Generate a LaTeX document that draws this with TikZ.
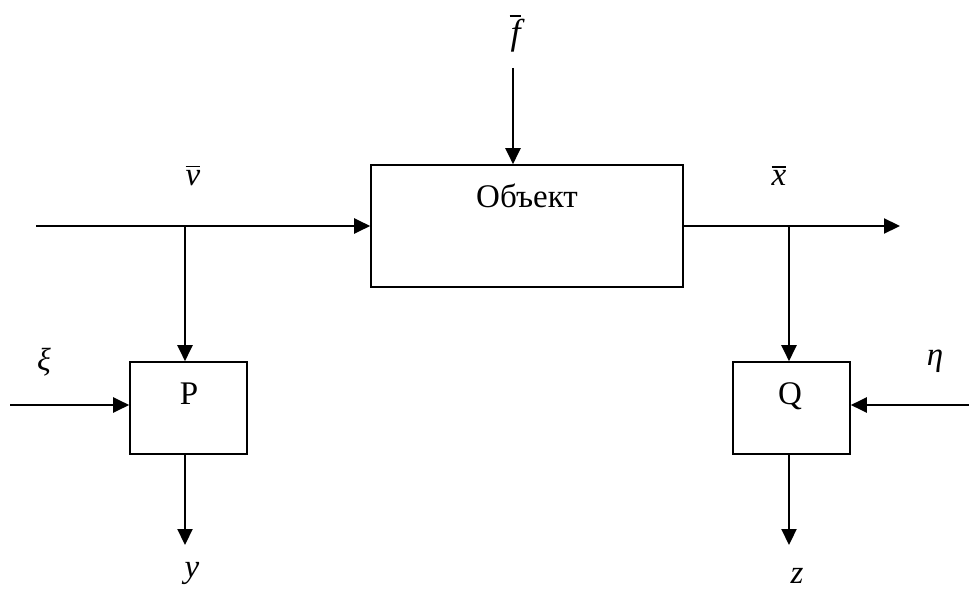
\documentclass[tikz,border=0pt]{standalone}
\usepackage{fontspec}
\setmainfont{Liberation Serif}
\usetikzlibrary{arrows.meta}
\newcommand\barred[1]{\vbox{\hrule height 1.2pt\kern 3pt\hbox{\itshape #1}}}
\begin{document}
\begin{tikzpicture}[x=1pt,y=-1pt,
  every node/.style={font=\fontsize{33}{38}\selectfont},
  blk/.style={draw,line width=1.6pt,inner sep=0pt},
  lbl/.style={inner sep=0pt},
  conn/.style={line width=2.2pt,-{Triangle[length=16pt,width=15pt]}},
  wire/.style={line width=2.2pt}]
\useasboundingbox (0,0) rectangle (969,591);
% blocks
\node[blk,minimum width=312pt,minimum height=122pt] (obj) at (527,226) {};
\node[blk,minimum width=117pt,minimum height=92pt] (P) at (188.5,408) {};
\node[blk,minimum width=117pt,minimum height=92pt] (Q) at (791.5,408) {};
% block texts
\node[lbl] (objt) at (527,196) {Объект};
\node[lbl] (Pt) at (189,394) {P};
\node[lbl] (Qt) at (790,396) {Q};
% labels
\node[lbl,font=\fontsize{36}{40}\selectfont] (fl) at (515,34) {\barred{\kern1pt f}};
\node[lbl] (vl) at (193,176) {\barred{v}};
\node[lbl] (xl) at (779,176) {\barred{x}};
\node[lbl,font=\fontsize{32}{36}\selectfont] (xil) at (44,362) {\itshape ξ};
\node[lbl] (etal) at (935,361) {\itshape η};
\node[lbl] (yl) at (192,573) {\itshape y};
\node[lbl] (zl) at (797,576) {\itshape z};
% coordinates
\coordinate (fs) at (513,68);
\coordinate (vs) at (36,226);
\coordinate (vb) at (185,226);
\coordinate (xb) at (789,226);
\coordinate (xe) at (900,226);
\coordinate (xis) at (10,405);
\coordinate (etas) at (969,405);
\coordinate (ye) at (185,545);
\coordinate (ze) at (789,545);
% connectors
\draw[conn] (fs) -- (fs |- obj.north);
\draw[conn] (vs) -- (obj.west);
\draw[conn] (vb) -- (vb |- P.north);
\draw[wire] (obj.east) -- (xb);
\draw[conn] (xb) -- (xe);
\draw[conn] (xb) -- (xb |- Q.north);
\draw[conn] (xis) -- (xis -| P.west);
\draw[conn] (etas) -- (etas -| Q.east);
\draw[conn] (ye |- P.south) -- (ye);
\draw[conn] (ze |- Q.south) -- (ze);
\end{tikzpicture}
\end{document}
